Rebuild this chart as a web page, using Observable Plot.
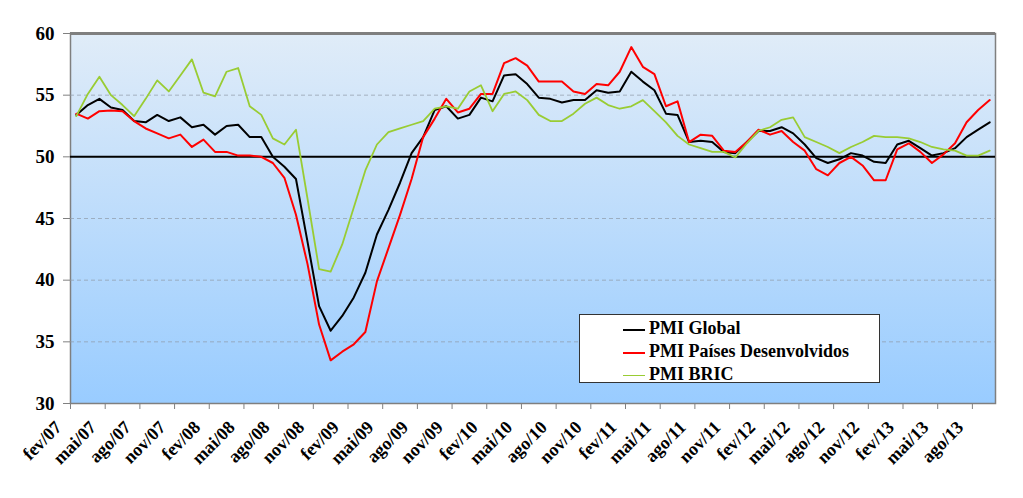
<!DOCTYPE html>
<html><head><meta charset="utf-8">
<script src="https://cdn.jsdelivr.net/npm/d3@7"></script>
<script src="https://cdn.jsdelivr.net/npm/@observablehq/plot@0.6"></script>
<style>
body{margin:0;background:#fff}
#wrap{position:relative;width:1023px;height:498px}
svg text{font-family:"Liberation Serif","DejaVu Serif",serif !important;font-weight:bold}
.legend{position:absolute;left:579px;top:314px;width:301px;height:69px;background:#fff;border:1px solid #333;box-sizing:border-box;font-family:"Liberation Serif","DejaVu Serif",serif;font-weight:bold;font-size:18px;color:#000}
.legend .row{position:absolute;left:43px;height:22px;line-height:22px;white-space:nowrap}
.legend .sw{display:inline-block;width:22px;vertical-align:middle;margin-right:4px}
</style></head>
<body><div id="wrap"></div>
<script>
const global = [53.4,54.2,54.7,54.0,53.8,52.9,52.8,53.4,52.9,53.2,52.4,52.6,51.8,52.5,52.6,51.6,51.6,50.0,49.2,48.2,
43.1,37.9,35.9,37.1,38.6,40.6,43.7,45.7,47.9,50.3,51.6,53.8,54.1,53.1,53.4,54.8,54.5,56.6,56.7,55.9,
54.8,54.7,54.4,54.6,54.6,55.4,55.2,55.3,56.9,56.1,55.4,53.5,53.4,51.2,51.3,51.2,50.4,50.3,51.2,52.1,
52.1,52.4,51.9,51.0,49.9,49.5,49.8,50.3,50.1,49.6,49.5,51.0,51.3,50.7,50.1,50.3,50.7,51.6,52.2,52.8];
const desenvolvidos = [53.5,53.1,53.7,53.75,53.7,52.9,52.3,51.9,51.5,51.8,50.8,51.4,50.4,50.4,50.1,50.1,50.0,49.5,48.3,45.3,
41.3,36.4,33.5,34.2,34.8,35.8,39.9,42.6,45.3,48.2,51.6,53.1,54.7,53.6,53.9,55.1,55.1,57.6,58.0,57.4,
56.1,56.1,56.1,55.3,55.1,55.9,55.8,56.9,58.9,57.3,56.7,54.1,54.5,51.2,51.8,51.7,50.5,50.4,51.2,52.2,
51.8,52.1,51.2,50.5,49.0,48.5,49.5,50.0,49.3,48.1,48.1,50.6,51.1,50.4,49.5,50.2,51.1,52.8,53.8,54.6];
const bric = [53.3,55.1,56.5,55.0,54.2,53.3,54.7,56.2,55.3,56.6,57.9,55.2,54.9,56.9,57.2,54.1,53.4,51.5,51.0,52.2,
46.6,40.9,40.7,42.9,45.9,48.9,51.0,52.0,52.3,52.6,52.9,53.9,54.1,53.9,55.3,55.8,53.7,55.1,55.3,54.6,
53.4,52.9,52.9,53.5,54.3,54.8,54.2,53.9,54.1,54.6,53.7,52.8,51.7,51.0,50.7,50.4,50.4,49.95,51.1,52.1,
52.4,53.0,53.2,51.6,51.2,50.8,50.3,50.8,51.2,51.7,51.6,51.6,51.5,51.2,50.8,50.6,50.5,50.1,50.1,50.5];
const tickLabels = ["fev/07","mai/07","ago/07","nov/07","fev/08","mai/08","ago/08","nov/08","fev/09","mai/09","ago/09","nov/09",
"fev/10","mai/10","ago/10","nov/10","fev/11","mai/11","ago/11","nov/11","fev/12","mai/12","ago/12","nov/12","fev/13","mai/13","ago/13"];
const yTicks = [30,35,40,45,50,55,60];
const gridValues = [35,40,45,55];
const seriesNames = ["PMI Global","PMI Países Desenvolvidos","PMI BRIC"];
const seriesColors = ["#000000","#ff0000","#99cc33"];
const seriesValues = [global, desenvolvidos, bric];

const rows = [];
seriesValues.forEach((vals, k) => vals.forEach((v, i) => rows.push({i, v, s: seriesNames[k]})));
const tickPos = tickLabels.map((_, k) => -0.5 + 3 * k);
const xLabelData = tickLabels.map((t, k) => ({x: tickPos[k], t}));

const chart = Plot.plot({
  width: 1023, height: 498,
  marginLeft: 70, marginRight: 28, marginTop: 33, marginBottom: 95,
  x: {domain: [-0.5, 79.5]},
  y: {domain: [30, 60]},
  style: {background: "transparent", overflow: "visible"},
  marks: [
    Plot.frame({fill: "url(#bg)", stroke: "#7f7f7f", strokeWidth: 1.5}),
    Plot.ruleY(gridValues, {stroke: "#8e9aa8", strokeDasharray: "4,3", strokeOpacity: 0.7}),
    Plot.ruleY([60], {stroke: "#7f7f7f", strokeWidth: 3}),
    Plot.ruleY([50], {stroke: "#000", strokeWidth: 2}),
    ...seriesNames.map((name, k) => Plot.lineY(rows.filter(r => r.s === name), {x: "i", y: "v", stroke: seriesColors[k], strokeWidth: k === 2 ? 1.8 : 2})),
    Plot.axisY({ticks: yTicks, tickSize: 7, tickPadding: 9, fontSize: 19, stroke: "#808080", fill: "#000", label: null}),
    Plot.axisX({ticks: tickPos, tickFormat: () => "", tickSize: 6, stroke: "#808080", label: null}),
    Plot.text(xLabelData, {x: "x", text: "t", frameAnchor: "bottom", rotate: -45, textAnchor: "end", dx: -8, dy: 25, fontSize: 18, fill: "#000"})
  ]
});
const svg = d3.select(chart);
const defs = svg.insert("defs", ":first-child");
const grad = defs.append("linearGradient").attr("id", "bg").attr("x1", 0).attr("y1", 0).attr("x2", 0).attr("y2", 1);
grad.append("stop").attr("offset", "0%").attr("stop-color", "#e0ecf8");
grad.append("stop").attr("offset", "100%").attr("stop-color", "#99ccff");

const wrap = document.getElementById("wrap");
wrap.appendChild(chart);
const leg = document.createElement("div");
leg.className = "legend";
seriesNames.forEach((name, k) => {
  const r = document.createElement("div");
  r.className = "row";
  r.style.top = (2 + k * 23) + "px";
  const sw = document.createElement("span");
  sw.className = "sw";
  sw.style.borderTop = (k === 2 ? 1.5 : 2) + "px solid " + seriesColors[k];
  r.appendChild(sw);
  r.appendChild(document.createTextNode(name));
  leg.appendChild(r);
});
wrap.appendChild(leg);
</script>
</body></html>
